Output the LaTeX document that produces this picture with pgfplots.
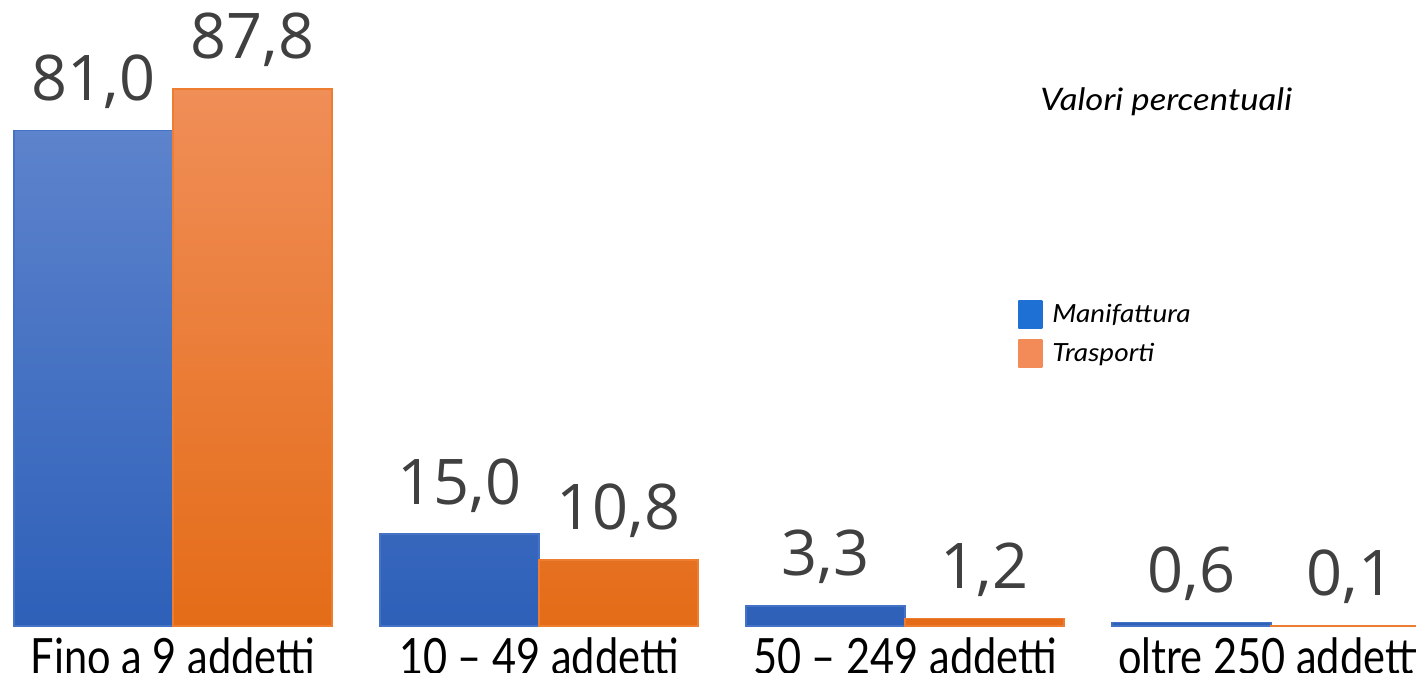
\documentclass[border=0pt]{standalone}
\usepackage{fontspec}
\setmainfont{Open Sans}
\newfontfamily\catfont[FakeStretch=0.83]{Lato}
\newfontfamily\itfont[FakeStretch=1.12]{Lato}
\usepackage{pgfplots}
\pgfplotsset{compat=1.18}

\definecolor{bluetop}{HTML}{5D83CC}
\definecolor{bluebot}{HTML}{2E60B9}
\definecolor{blueedge}{HTML}{4472C4}
\definecolor{orangetop}{HTML}{F08E58}
\definecolor{orangebot}{HTML}{E46C18}
\definecolor{orangeedge}{HTML}{ED7D31}
\definecolor{legblue}{HTML}{1F70D4}
\definecolor{legorange}{HTML}{F28B57}
\definecolor{valgray}{HTML}{404040}

\begin{document}
\begin{tikzpicture}
\begin{axis}[
    scale only axis, width=708pt, height=336pt,
    ybar=0pt, bar width=0.4344,
    xmin=-0.4727, xmax=3.396, ymin=-7.52, ymax=102.3,
    axis line style={draw=none}, major tick length=0pt,
    ytick=\empty,
    xtick={0,1,2,3},
    xticklabels={Fino a 9 addetti, 10 – 49 addetti, 50 – 249 addetti, oltre 250 addetti},
    xticklabel style={anchor=base, yshift=-1pt, inner sep=0pt,
        font=\catfont\fontsize{25}{30}\selectfont, text=black},
    nodes near coords,
    every node near coord/.append style={anchor=base, yshift=15pt, inner sep=0pt,
        font=\fontsize{31.5}{36}\selectfont, text=valgray},
    /pgf/number format/fixed, /pgf/number format/fixed zerofill,
    /pgf/number format/precision=1, /pgf/number format/use comma,
    /pgf/number format/assume math mode=true,
    legend style={at={(rel axis cs:0.7189,0.5536)}, anchor=north west,
        draw=none, fill=none, inner sep=0pt, nodes={inner sep=0pt},
        column sep=5pt, row sep=5.5pt,
        font=\itfont\itshape\fontsize{12.5}{15}\selectfont},
    legend cell align=left,
]
\addplot[top color=bluetop, bottom color=bluebot, draw=blueedge, line width=0.8pt,
    legend image code/.code={\path[top color=legblue, bottom color=legblue, draw=none] (0pt,-7pt) rectangle (12pt,7pt);}]
    coordinates {(0,81.0) (1,15.0) (2,3.3) (3,0.6)};
\addplot[top color=orangetop, bottom color=orangebot, draw=orangeedge, line width=0.8pt,
    legend image code/.code={\path[top color=legorange, bottom color=legorange, draw=none] (0pt,-7pt) rectangle (12pt,7pt);}]
    coordinates {(0,87.8) (1,10.8) (2,1.2) (3,0.1)};
\legend{Manifattura, Trasporti}
\node[anchor=base west, inner sep=0pt, font=\itfont\itshape\fontsize{15.5}{18}\selectfont]
    at (rel axis cs:0.7345,0.8363) {Valori percentuali};
\coordinate (bbsw) at (rel axis cs:0,0);
\coordinate (bbne) at (rel axis cs:1,1);
\end{axis}
\pgfresetboundingbox
\path[use as bounding box] (bbsw) rectangle (bbne);
\end{tikzpicture}
\end{document}
